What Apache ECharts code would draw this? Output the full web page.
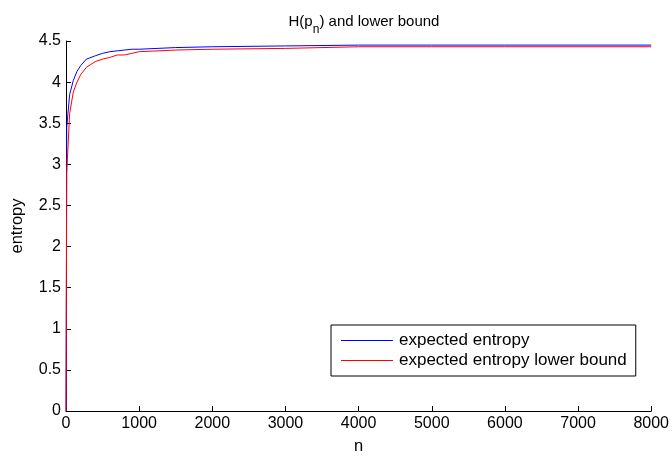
<!DOCTYPE html>
<html>
<head>
<meta charset="utf-8">
<script src="https://cdn.jsdelivr.net/npm/echarts@6/dist/echarts.min.js"></script>
<style>
html,body{margin:0;padding:0;background:#fff;}
#chart{width:672px;height:460px;}
</style>
</head>
<body>
<div id="chart"></div>
<script>
const nValues = [1, 10, 50, 100, 150, 200, 280, 400, 500, 600, 700, 800, 900, 1000, 1500, 2000, 3000, 4000, 5000, 6000, 7000, 8000];
const expectedEntropy = [0, 3.45, 3.85, 4.02, 4.13, 4.2, 4.28, 4.32, 4.35, 4.37, 4.38, 4.39, 4.40, 4.40, 4.42, 4.43, 4.44, 4.45, 4.45, 4.45, 4.45, 4.45];
const lowerBound = [0, 2.9, 3.62, 3.88, 4.0, 4.09, 4.18, 4.25, 4.28, 4.3, 4.33, 4.33, 4.35, 4.37, 4.39, 4.40, 4.41, 4.43, 4.43, 4.43, 4.43, 4.43];
const seriesNames = ['expected entropy', 'expected entropy lower bound'];
const xTicks = [0, 1000, 2000, 3000, 4000, 5000, 6000, 7000, 8000];

const font = 'Liberation Sans, Arial, sans-serif';
const chart = echarts.init(document.getElementById('chart'));
const pairs = arr => nValues.map((n, i) => [n, arr[i]]);

chart.setOption({
  animation: false,
  backgroundColor: '#fff',
  title: {
    text: '{a|H(p}{s|n}{a|) and lower bound}',
    left: 359, textAlign: 'center', top: 8,
    textStyle: {
      fontWeight: 'normal',
      rich: {
        a: {fontFamily: font, fontSize: 15, fontWeight: 'normal', color: '#000', lineHeight: 18},
        s: {fontFamily: font, fontSize: 12, fontWeight: 'normal', color: '#000', lineHeight: 18, padding: [15, 0, 0, 0]}
      }
    }
  },
  grid: {left: 66, right: 20, top: 41, bottom: 46, containLabel: false},
  legend: {
    orient: 'vertical',
    left: 331, top: 325,
    backgroundColor: '#fff',
    borderColor: '#000', borderWidth: 1, borderRadius: 0,
    padding: [7, 9, 7, 10],
    itemWidth: 52, itemHeight: 1, itemGap: 3,
    icon: 'rect',
    textStyle: {fontFamily: font, fontSize: 17, color: '#000', lineHeight: 17, padding: [0, 0, 0, 1]},
    data: seriesNames
  },
  xAxis: {
    type: 'value', min: 0, max: 8000, interval: 1000,
    name: 'n', nameLocation: 'middle', nameGap: 27,
    nameTextStyle: {fontFamily: font, fontSize: 16.5, color: '#000'},
    axisLine: {onZero: false, lineStyle: {color: '#000', width: 1}},
    axisTick: {inside: true, length: 5, lineStyle: {color: '#000'}},
    axisLabel: {fontFamily: font, fontSize: 16, color: '#000', margin: 5,
      formatter: v => String(v)},
    splitLine: {show: false}
  },
  yAxis: {
    type: 'value', min: 0, max: 4.5, interval: 0.5,
    name: 'entropy', nameLocation: 'middle', nameGap: 40, nameRotate: 90,
    nameTextStyle: {fontFamily: font, fontSize: 16.5, color: '#000'},
    axisLine: {onZero: false, lineStyle: {color: '#000', width: 1}},
    axisTick: {inside: true, length: 5, lineStyle: {color: '#000'}},
    axisLabel: {fontFamily: font, fontSize: 16, color: '#000', margin: 5},
    splitLine: {show: false}
  },
  series: [
    {name: seriesNames[0], type: 'line', data: pairs(expectedEntropy), symbol: 'none',
     lineStyle: {color: '#0000ff', width: 1}, itemStyle: {color: '#0000ff'}},
    {name: seriesNames[1], type: 'line', data: pairs(lowerBound), symbol: 'none',
     lineStyle: {color: '#ff0000', width: 1}, itemStyle: {color: '#ff0000'}}
  ]
});
</script>
</body>
</html>
